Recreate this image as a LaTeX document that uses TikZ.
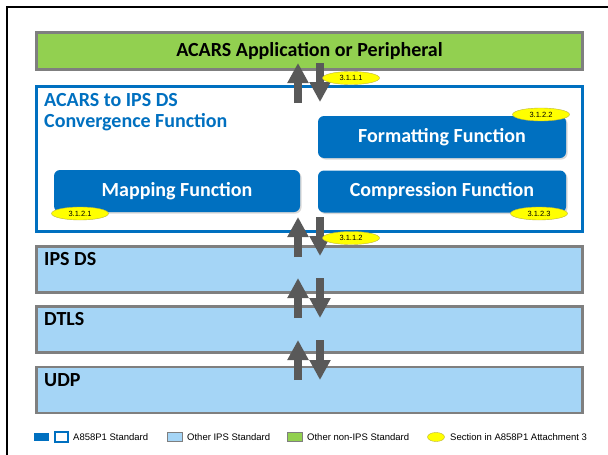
\documentclass[tikz,border=0pt]{standalone}
\usepackage{fontspec}
\setmainfont{Carlito}
\newfontfamily\arialfont{Liberation Sans}
\usetikzlibrary{arrows.meta,shadows,shapes.geometric}
\definecolor{msblue}{HTML}{0070C0}
\definecolor{appgreen}{HTML}{92D050}
\definecolor{layerblue}{HTML}{A5D5F6}
\definecolor{bordergray}{HTML}{7F7F7F}
\definecolor{arrowgray}{HTML}{595959}
\definecolor{secyellow}{HTML}{FFFF00}
\begin{document}
\begin{tikzpicture}[x=1pt,y=-1pt,
  bigfont/.style={font=\bfseries\fontsize{20}{21}\selectfont},
  appbox/.style={draw=bordergray, line width=2.5pt, fill=appgreen, bigfont, text=black, minimum width=546pt, minimum height=37pt, inner sep=0pt},
  convbox/.style={draw=msblue, line width=3pt, fill=white, minimum width=546pt, minimum height=145pt, inner sep=0pt,
     drop shadow={shadow xshift=1.5pt, shadow yshift=-1.5pt, opacity=0.3}},
  funcbox/.style={fill=msblue, rounded corners=6pt, text=white, bigfont, minimum height=42pt, inner sep=0pt,
     drop shadow={shadow xshift=1.5pt, shadow yshift=-1.5pt, opacity=0.3}},
  layerbox/.style={draw=bordergray, line width=2.5pt, fill=layerblue, minimum width=546pt, minimum height=46pt, inner sep=0pt},
  layerlabel/.style={bigfont, anchor=base west, inner sep=0pt},
  secellipse/.style={ellipse, fill=secyellow, draw=yellow!70!black, line width=0.4pt, minimum width=57pt, minimum height=13pt, inner sep=0pt, font=\arialfont\fontsize{7.5}{8}\selectfont},
  blockarrow/.style={draw=arrowgray, line width=7.5pt, -{Triangle[width=20pt,length=20pt]}},
  legtext/.style={font=\arialfont\fontsize{9.5}{11}\selectfont, anchor=west, inner sep=0pt},
]
\useasboundingbox (0,0) rectangle (608,455);
\fill[white] (0,0) rectangle (608,455);
% page frame
\draw[line width=2.5pt, black] (7,455) -- (7,7) -- (608,7);

% boxes
\node[appbox] (app) at (309.5,51) {ACARS Application or Peripheral};
\node[convbox] (conv) at (309.5,159) {};
\node[bigfont, text=msblue, anchor=base west, inner sep=0pt] (convtitle1) at (44,106) {ACARS to IPS DS};
\node[bigfont, text=msblue, anchor=base west, inner sep=0pt] (convtitle2) at (44,127) {Convergence Function};
\node[funcbox, minimum width=248pt] (fmt) at (442,137) {Formatting Function};
\node[funcbox, minimum width=248pt] (cmp) at (442,191.5) {Compression Function};
\node[funcbox, minimum width=246pt] (map) at (177,191) {Mapping Function};

\node[layerbox] (ipsds) at (309.5,269.5) {};
\node[layerbox] (dtls) at (309.5,329.5) {};
\node[layerbox] (udp) at (309.5,390) {};
\node[layerlabel] (lips) at (44,265) {IPS DS};
\node[layerlabel] (ldtls) at (44,325) {DTLS};
\node[layerlabel] (ludp) at (44,386) {UDP};

% arrows
\coordinate (u1a) at (298,103); \coordinate (u1b) at (298,63);
\coordinate (d1a) at (320,63);  \coordinate (d1b) at (320,102);
\coordinate (u2a) at (298,257); \coordinate (u2b) at (298,217);
\coordinate (d2a) at (320,217); \coordinate (d2b) at (320,256);
\coordinate (u3a) at (298,318); \coordinate (u3b) at (298,278);
\coordinate (d3a) at (320,278); \coordinate (d3b) at (320,318);
\coordinate (u4a) at (298,380); \coordinate (u4b) at (298,340);
\coordinate (d4a) at (320,340); \coordinate (d4b) at (320,380);
\draw[blockarrow] (u1a) -- (u1b);
\draw[blockarrow] (d1a) -- (d1b);
\draw[blockarrow] (u2a) -- (u2b);
\draw[blockarrow] (d2a) -- (d2b);
\draw[blockarrow] (u3a) -- (u3b);
\draw[blockarrow] (d3a) -- (d3b);
\draw[blockarrow] (u4a) -- (u4b);
\draw[blockarrow] (d4a) -- (d4b);

% section ellipses
\node[secellipse] (s1111) at (351,78) {3.1.1.1};
\node[secellipse] (s3122) at (541,114.5) {3.1.2.2};
\node[secellipse] (s3121) at (80,213.5) {3.1.2.1};
\node[secellipse] (s3123) at (539,213.5) {3.1.2.3};
\node[secellipse] (s3112) at (351,238) {3.1.1.2};

% legend
\node[fill=msblue, minimum width=15pt, minimum height=8pt, inner sep=0pt] (lg1) at (41.5,437) {};
\node[fill=white, draw=msblue, line width=2pt, minimum width=13pt, minimum height=10pt, inner sep=0pt] (lg2) at (61,437) {};
\node[legtext] (lt1) at (73,437) {A858P1 Standard};
\node[fill=layerblue, draw=bordergray, line width=0.8pt, minimum width=15pt, minimum height=9pt, inner sep=0pt] (lg3) at (174.5,437) {};
\node[legtext] (lt2) at (187,437) {Other IPS Standard};
\node[fill=appgreen, draw=bordergray, line width=0.8pt, minimum width=15pt, minimum height=9pt, inner sep=0pt] (lg4) at (294.5,437) {};
\node[legtext] (lt3) at (307,437) {Other non-IPS Standard};
\node[ellipse, fill=secyellow, draw=yellow!70!black, line width=0.4pt, minimum width=17pt, minimum height=9pt, inner sep=0pt] (lg5) at (436,437) {};
\node[legtext] (lt4) at (450,437) {Section in A858P1 Attachment 3};
\end{tikzpicture}
\end{document}
